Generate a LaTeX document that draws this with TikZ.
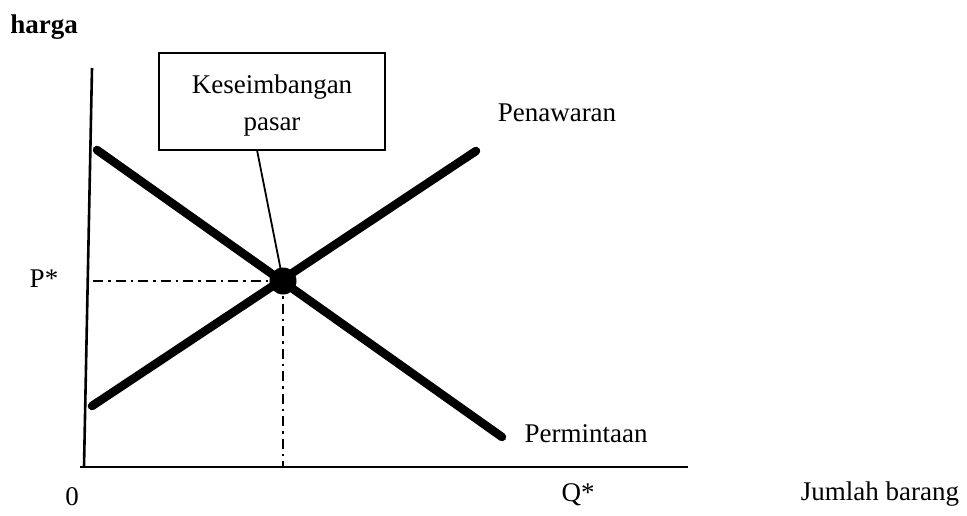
\documentclass[tikz,border=0pt]{standalone}
\usepackage{fontspec}
\setmainfont{Liberation Serif}
\begin{document}
\begin{tikzpicture}[x=1pt,y=-1pt,
  lbl/.style={inner sep=0pt,font=\fontsize{27}{31}\selectfont},
  axis/.style={line width=2.6pt},
  curve/.style={line width=8.5pt,line cap=round},
  guide/.style={line width=2.6pt,dash pattern=on 10pt off 5pt on 2.5pt off 5pt},
  callout/.style={draw,line width=2.4pt,minimum width=226pt,minimum height=97pt,inner sep=0pt}]
\useasboundingbox[fill=white] (0,0) rectangle (967,516);
% axes
\coordinate (ytop) at (92,68);
\coordinate (origin) at (84,467);
\coordinate (xend) at (688,467);
\coordinate (xstart) at (80,467);
\draw[axis] (ytop) -- (origin);
\draw[axis] (xstart) -- (xend);
% curves
\coordinate (d1) at (97,150);
\coordinate (d2) at (502,437);
\coordinate (s1) at (92,406);
\coordinate (s2) at (476,151);
\coordinate (eq) at (283,281);
\coordinate (pax) at (93,281);
\coordinate (qax) at (283,467);
\draw[guide] (pax) -- (eq);
\draw[guide] (eq) -- (qax);
\draw[curve] (d1) -- (d2);
\draw[curve] (s1) -- (s2);
\fill (eq) circle (13.5pt);
% callout
\node[callout] (box) at (272,101.5) {};
\node[lbl,align=center,font=\fontsize{27}{37}\selectfont] (boxtext) at (272,106) {Keseimbangan\\pasar};
\coordinate (boxfoot) at (257,150);
\draw[line width=1.8pt] (boxfoot) -- (eq);
% labels
\node[lbl,font=\fontsize{27}{31}\selectfont\bfseries] (harga) at (44,27) {harga};
\node[lbl] (pstar) at (44,279) {P*};
\node[lbl] (zero) at (72,497) {0};
\node[lbl] (qstar) at (578,495) {Q*};
\node[lbl] (jumlah) at (880,494) {Jumlah barang};
\node[lbl] (pen) at (557,113) {Penawaran};
\node[lbl] (perm) at (586,434) {Permintaan};
\end{tikzpicture}
\end{document}
